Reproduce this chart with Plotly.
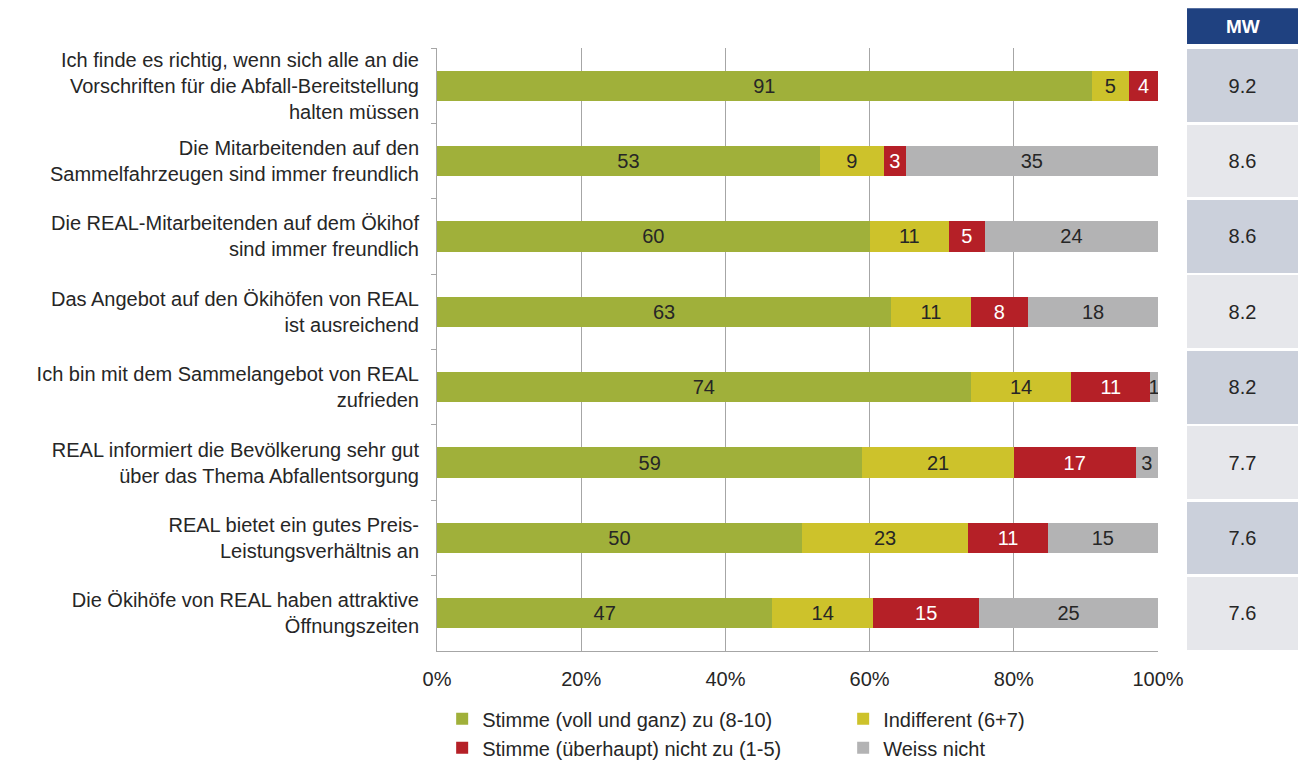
import plotly.graph_objects as go

categories = [
    "Ich finde es richtig, wenn sich alle an die<br>Vorschriften für die Abfall-Bereitstellung<br>halten müssen",
    "Die Mitarbeitenden auf den<br>Sammelfahrzeugen sind immer freundlich",
    "Die REAL-Mitarbeitenden auf dem Ökihof<br>sind immer freundlich",
    "Das Angebot auf den Ökihöfen von REAL<br>ist ausreichend",
    "Ich bin mit dem Sammelangebot von REAL<br>zufrieden",
    "REAL informiert die Bevölkerung sehr gut<br>über das Thema Abfallentsorgung",
    "REAL bietet ein gutes Preis-<br>Leistungsverhältnis an",
    "Die Ökihöfe von REAL haben attraktive<br>Öffnungszeiten",
]

series_names = [
    "Stimme (voll und ganz) zu (8-10)",
    "Indifferent (6+7)",
    "Stimme (überhaupt) nicht zu (1-5)",
    "Weiss nicht",
]

stimme_zu = [90.8, 53.1, 60.0, 63.0, 74.0, 59.0, 50.6, 46.5]
indifferent = [5.2, 8.9, 11.0, 11.0, 14.0, 21.0, 23.1, 14.0]
nicht_zu = [4.0, 3.0, 5.0, 8.0, 10.9, 16.9, 11.0, 14.7]
weiss_nicht = [0.0, 35.0, 24.0, 18.0, 1.1, 3.1, 15.3, 24.8]

stimme_zu_lbl = ["91", "53", "60", "63", "74", "59", "50", "47"]
indifferent_lbl = ["5", "9", "11", "11", "14", "21", "23", "14"]
nicht_zu_lbl = ["4", "3", "5", "8", "11", "17", "11", "15"]
weiss_nicht_lbl = ["", "35", "24", "18", "1", "3", "15", "25"]

mw_values = ["9.2", "8.6", "8.6", "8.2", "8.2", "7.7", "7.6", "7.6"]
mw_header = "MW"

colors = ["#A0B03A", "#CDC22B", "#B52027", "#B3B3B4"]
text_colors = ["#262626", "#262626", "#FFFFFF", "#262626"]
mw_colors = ["#CBD0DB", "#E6E7EB"]

FONT = "Liberation Sans, Arial, sans-serif"
FS = 20

fig = go.Figure()

for name, vals, lbls, col, tcol in zip(
    series_names,
    [stimme_zu, indifferent, nicht_zu, weiss_nicht],
    [stimme_zu_lbl, indifferent_lbl, nicht_zu_lbl, weiss_nicht_lbl],
    colors,
    text_colors,
):
    fig.add_trace(go.Bar(
        name=name,
        y=categories,
        x=vals,
        orientation="h",
        marker=dict(color=col, line=dict(width=0)),
        text=lbls,
        textposition="inside",
        insidetextanchor="middle",
        textangle=0,
        constraintext="none",
        cliponaxis=True,
        textfont=dict(family=FONT, size=FS, color=tcol),
        width=0.4,
        xaxis="x",
        yaxis="y",
        hoverinfo="x+y+name",
    ))

fig.add_trace(go.Bar(
    name="MW",
    y=categories,
    x=[1] * len(categories),
    orientation="h",
    marker=dict(color=[mw_colors[i % 2] for i in range(len(categories))], line=dict(width=0)),
    text=mw_values,
    textposition="inside",
    insidetextanchor="middle",
    textangle=0,
    textfont=dict(family=FONT, size=FS, color="#262626"),
    width=0.965,
    xaxis="x2",
    yaxis="y",
    showlegend=False,
    hoverinfo="text",
))

fig.update_layout(
    width=1302,
    height=761,
    barmode="stack",
    paper_bgcolor="white",
    plot_bgcolor="white",
    margin=dict(l=437, r=4, t=48, b=110, autoexpand=False),
    font=dict(family=FONT, size=FS, color="#262626"),
    xaxis=dict(
        domain=[0.0, 0.8374],
        range=[0, 100],
        dtick=20,
        tick0=0,
        ticksuffix="%",
        showgrid=True,
        gridcolor="#A6A6A6",
        gridwidth=1,
        showline=True,
        linecolor="#A6A6A6",
        linewidth=1,
        ticks="",
        zeroline=False,
        automargin=False,
        tickfont=dict(family=FONT, size=FS, color="#262626"),
        ticklabelstandoff=10,
        fixedrange=True,
    ),
    xaxis2=dict(
        domain=[0.8711, 1.0],
        range=[0, 1],
        visible=False,
        fixedrange=True,
    ),
    yaxis=dict(
        autorange="reversed",
        showline=True,
        linecolor="#A6A6A6",
        linewidth=1,
        ticks="outside",
        tickson="boundaries",
        ticklen=5,
        tickcolor="#A6A6A6",
        showgrid=False,
        automargin=False,
        tickfont=dict(family=FONT, size=FS, color="#262626"),
        ticklabelstandoff=13,
        fixedrange=True,
    ),
    legend=dict(
        orientation="h",
        x=0.006,
        xanchor="left",
        y=-0.08,
        yanchor="top",
        entrywidth=356,
        font=dict(family=FONT, size=FS, color="#262626"),
        traceorder="normal",
        bgcolor="rgba(0,0,0,0)",
        tracegroupgap=0,
    ),
    shapes=[
        dict(
            type="rect",
            xref="x2 domain", yref="paper",
            x0=0, x1=1, y0=1.0066, y1=1.066,
            fillcolor="#1F4180", line=dict(width=0),
            layer="below",
        ),
    ],
    annotations=[
        dict(
            text="<b>" + mw_header + "</b>",
            xref="x2 domain", yref="paper",
            x=0.5, y=1.036,
            showarrow=False,
            font=dict(family=FONT, size=19, color="white"),
            xanchor="center", yanchor="middle",
        ),
    ],
)

fig.write_html(
    "out.html",
    config={"displayModeBar": False},
    post_script="document.body.style.margin='0';document.body.style.overflow='hidden';",
)
